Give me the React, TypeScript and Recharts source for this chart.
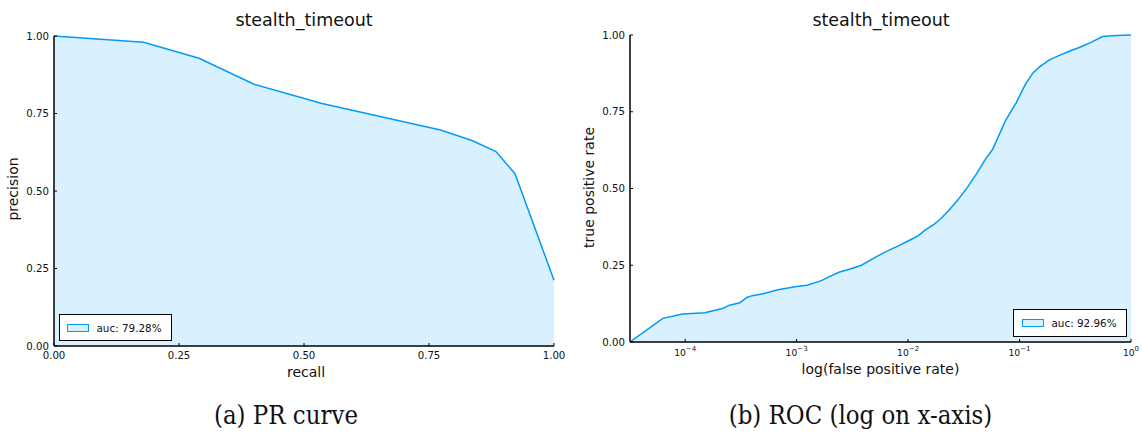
import React from 'react';
import { AreaChart, Area, XAxis, YAxis, Legend } from 'recharts';

// ---------- data ----------
const prRecall = [0, 0.179, 0.29, 0.399, 0.536, 0.773, 0.836, 0.884, 0.922, 1.0];
const prPrecision = [1.0, 0.98, 0.928, 0.845, 0.782, 0.697, 0.663, 0.627, 0.556, 0.212];

const rocFpr = [
  3.2e-5, 6.3e-5, 9.5e-5, 1.5e-4, 2.2e-4, 2.5e-4, 3.1e-4, 3.6e-4, 4.0e-4, 5.0e-4,
  6.8e-4, 1.0e-3, 1.24e-3, 1.67e-3, 1.94e-3, 2.43e-3, 2.93e-3, 3.82e-3, 5.15e-3, 6.46e-3,
  8.1e-3, 1.0e-2, 1.22e-2, 1.43e-2, 1.72e-2, 1.92e-2, 2.32e-2, 2.8e-2, 3.38e-2, 4.08e-2,
  4.93e-2, 5.73e-2, 7.46e-2, 9.35e-2, 0.113, 0.133, 0.152, 0.184, 0.222, 0.278,
  0.348, 0.437, 0.556, 0.74, 1.0,
];
const rocTpr = [
  0, 0.077, 0.091, 0.095, 0.11, 0.12, 0.128, 0.146, 0.151, 0.157,
  0.17, 0.181, 0.185, 0.2, 0.212, 0.228, 0.236, 0.25, 0.277, 0.296,
  0.3125, 0.329, 0.345, 0.365, 0.384, 0.398, 0.428, 0.463, 0.502, 0.546,
  0.595, 0.627, 0.72, 0.78, 0.84, 0.878, 0.897, 0.918, 0.932, 0.947,
  0.96, 0.976, 0.995, 0.998, 1.0,
];

const unitTicks = [0, 0.25, 0.5, 0.75, 1];
const rocXTicks = [1e-4, 1e-3, 1e-2, 1e-1, 1];
const rocXExponents = ['\u22124', '\u22123', '\u22122', '\u22121', '0'];

const chartTitle = 'stealth_timeout';
const prLegendLabel = 'auc: 79.28%';
const rocLegendLabel = 'auc: 92.96%';
const prXLabel = 'recall';
const prYLabel = 'precision';
const rocXLabel = 'log(false positive rate)';
const rocYLabel = 'true positive rate';
const captionA = '(a) PR curve';
const captionB = '(b) ROC (log on x-axis)';

const prData = prRecall.map((r, i) => ({ x: r, y: prPrecision[i] }));
const rocData = rocFpr.map((f, i) => ({ x: f, y: rocTpr[i] }));

const BLUE = '#009afa';
const SANS = '"DejaVu Sans", sans-serif';

// ---------- ticks ----------
const YTick = (props: any) => {
  const { x, y, payload } = props;
  const ax = x + 5;
  return (
    <g>
      <line x1={ax} x2={ax + 3} y1={y} y2={y} stroke="#000" strokeWidth={1} />
      <text x={x} y={y} dy="0.36em" textAnchor="end" fontSize={10.2} fontFamily={SANS} fill="#111">
        {Number(payload.value).toFixed(2)}
      </text>
    </g>
  );
};

const XTickLinear = (props: any) => {
  const { x, y, payload } = props;
  const ay = y - 2;
  return (
    <g>
      <line x1={x} x2={x} y1={ay} y2={ay - 3} stroke="#000" strokeWidth={1} />
      <text x={x} y={ay + 13} textAnchor="middle" fontSize={10.2} fontFamily={SANS} fill="#111">
        {Number(payload.value).toFixed(2)}
      </text>
    </g>
  );
};

const XTickLog = (props: any) => {
  const { x, y, payload, index } = props;
  const ay = y - 2;
  const idx = rocXTicks.indexOf(payload.value);
  const exp = rocXExponents[idx >= 0 ? idx : index];
  return (
    <g>
      <line x1={x} x2={x} y1={ay} y2={ay - 3} stroke="#000" strokeWidth={1} />
      <text x={x} y={ay + 13.5} textAnchor="middle" fontFamily={SANS} fill="#111">
        <tspan fontSize={9.2}>10</tspan>
        <tspan fontSize={7} dy={-4.5}>{exp}</tspan>
      </text>
    </g>
  );
};

const makeLegend = (padLeft: number, w: number, h: number) => (props: any) => {
  const label = props.payload && props.payload[0] ? props.payload[0].value : '';
  return (
    <div
      style={{
        boxSizing: 'border-box',
        width: w,
        height: h,
        border: '1.5px solid #000',
        background: '#fff',
        display: 'flex',
        alignItems: 'center',
        fontFamily: SANS,
        fontSize: 10.4,
        color: '#111',
        whiteSpace: 'nowrap',
      }}
    >
      <div
        style={{
          boxSizing: 'border-box',
          width: 22,
          height: 8,
          border: `1.5px solid ${BLUE}`,
          background: 'rgba(0,154,250,0.15)',
          marginLeft: padLeft,
          marginRight: 8,
        }}
      />
      <span>{label}</span>
    </div>
  );
};

const axisLine = { stroke: '#000', strokeWidth: 1.5 };

export default function App() {
  return (
    <div style={{ position: 'absolute', left: 0, top: 0, width: 1142, height: 434, background: '#fff' }}>
      <div style={{ position: 'absolute', left: 0, top: 0 }}>
        <AreaChart width={570} height={434} data={prData} margin={{ top: 36, right: 16, left: 0, bottom: 58 }}>
          <XAxis
            dataKey="x"
            type="number"
            domain={[0, 1]}
            ticks={unitTicks}
            height={30}
            axisLine={axisLine}
            tickLine={false}
            tickSize={0}
            tickMargin={2}
            tick={<XTickLinear />}
            interval={0}
          />
          <YAxis
            dataKey="y"
            type="number"
            domain={[0, 1]}
            ticks={unitTicks}
            width={54}
            axisLine={axisLine}
            tickLine={false}
            tickSize={0}
            tickMargin={5}
            tick={<YTick />}
            interval={0}
          />
          <Legend
            layout="horizontal"
            verticalAlign="middle"
            align="center"
            content={makeLegend(6.5, 113, 27)}
            wrapperStyle={{ left: 59, top: 314, width: 113, height: 27 }}
          />
          <Area
            type="linear"
            dataKey="y"
            name={prLegendLabel}
            stroke={BLUE}
            strokeWidth={1.5}
            fill={BLUE}
            fillOpacity={0.15}
            dot={false}
            activeDot={false}
            isAnimationActive={false}
          />
        </AreaChart>
      </div>
      <div style={{ position: 'absolute', left: 570, top: 0 }}>
        <AreaChart width={572} height={434} data={rocData} margin={{ top: 35, right: 11, left: 0, bottom: 62 }}>
          <XAxis
            dataKey="x"
            type="number"
            scale="log"
            domain={[3.2e-5, 1]}
            allowDataOverflow
            ticks={rocXTicks}
            height={30}
            axisLine={axisLine}
            tickLine={false}
            tickSize={0}
            tickMargin={2}
            tick={<XTickLog />}
            interval={0}
          />
          <YAxis
            dataKey="y"
            type="number"
            domain={[0, 1]}
            ticks={unitTicks}
            width={60}
            axisLine={axisLine}
            tickLine={false}
            tickSize={0}
            tickMargin={5}
            tick={<YTick />}
            interval={0}
          />
          <Legend
            layout="horizontal"
            verticalAlign="middle"
            align="center"
            content={makeLegend(7.5, 114, 28)}
            wrapperStyle={{ left: 443, top: 309, width: 114, height: 28 }}
          />
          <Area
            type="linear"
            dataKey="y"
            name={rocLegendLabel}
            stroke={BLUE}
            strokeWidth={1.5}
            fill={BLUE}
            fillOpacity={0.15}
            dot={false}
            activeDot={false}
            isAnimationActive={false}
          />
        </AreaChart>
      </div>
      <svg
        width={1142}
        height={434}
        style={{ position: 'absolute', left: 0, top: 0, pointerEvents: 'none', overflow: 'visible' }}
      >
        <g fontFamily={SANS} fill="#111">
          <text x={304} y={26} textAnchor="middle" fontSize={17.5}>{chartTitle}</text>
          <text x={881} y={26} textAnchor="middle" fontSize={17.5}>{chartTitle}</text>
          <text x={306} y={377} textAnchor="middle" fontSize={14}>{prXLabel}</text>
          <text x={880.5} y={374} textAnchor="middle" fontSize={14}>{rocXLabel}</text>
          <text transform="translate(18,189) rotate(-90)" textAnchor="middle" fontSize={14}>{prYLabel}</text>
          <text transform="translate(594,187.5) rotate(-90)" textAnchor="middle" fontSize={14}>{rocYLabel}</text>
        </g>
        <g fontFamily={'"DejaVu Serif Condensed", "DejaVu Serif", serif'} fill="#111" fontSize={25.5}>
          <text x={286} y={424} textAnchor="middle" style={{ fontStretch: 'condensed' }}>{captionA}</text>
          <text x={860.5} y={424} textAnchor="middle" style={{ fontStretch: 'condensed' }}>{captionB}</text>
        </g>
      </svg>
    </div>
  );
}
